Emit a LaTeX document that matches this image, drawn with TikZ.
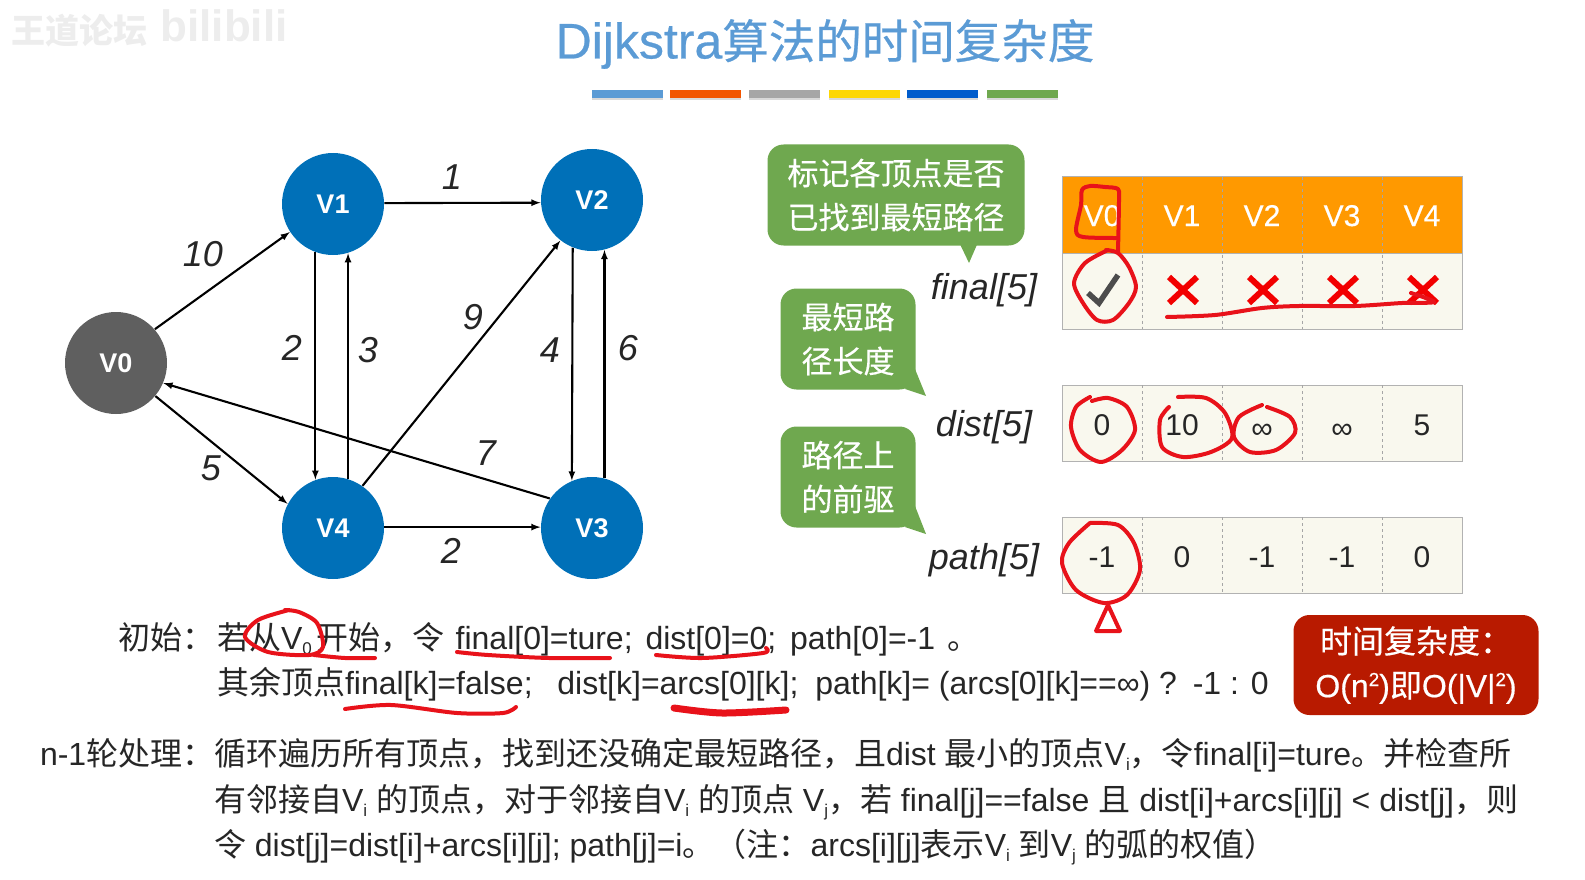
\documentclass[tikz,border=0pt]{standalone}
\usepackage{fontspec}
\usetikzlibrary{shadows}
\setmainfont{Liberation Sans}
\newfontfamily\cjk{Noto Sans CJK SC}
\newfontfamily\cjkmed[FakeBold=0.5]{Noto Sans CJK SC}
\newfontfamily\latmed[FakeBold=0.5]{Liberation Sans}
\newcommand{\cn}[1]{{\cjk #1}}
\newcommand{\cm}[1]{{\cjkmed #1}}
\newcommand{\sub}[1]{\raisebox{-5pt}{\fontsize{17}{17}\selectfont #1}}
\newcommand{\sqr}{\raisebox{11pt}{\fontsize{19}{19}\selectfont 2}}
\definecolor{titleblue}{HTML}{5B9BD5}
\definecolor{nodeblue}{HTML}{0070B8}
\definecolor{nodegray}{HTML}{5F5F5F}
\definecolor{tagreen}{HTML}{6FA84F}
\definecolor{headorange}{HTML}{FF9900}
\definecolor{cellcream}{HTML}{F9F8EE}
\definecolor{boxred}{HTML}{B81A00}
\definecolor{inkred}{HTML}{E8121A}
\begin{document}
\begin{tikzpicture}[x=1pt,y=-1pt,
every node/.style={inner sep=0pt, outer sep=0pt},
vertex/.style={circle, minimum size=102pt, fill=nodeblue, text=white, font=\fontsize{27}{27}\selectfont\bfseries, outer sep=0.5pt},
arc/.style={-latex, line width=2.1pt, black},
weight/.style={font=\fontsize{36}{36}\selectfont\itshape, text=black!85},
colorbar/.style={minimum width=71pt, minimum height=8pt, drop shadow={shadow xshift=0pt, shadow yshift=-2pt, opacity=.3}},
head/.style={minimum width=80pt, minimum height=77pt, fill=headorange, text=white, text height=22pt, text depth=0pt, font=\fontsize{30}{30}\selectfont\latmed},
cell/.style={minimum width=80pt, minimum height=76pt, fill=cellcream, text=black!85, text height=25pt, text depth=0pt, font=\fontsize{30}{30}\selectfont},
rowname/.style={font=\fontsize{36}{36}\selectfont\itshape, text=black!85},
tag/.style={fill=tagreen, rounded corners=16pt, text=white, align=center, font=\fontsize{31}{44}\selectfont\cjkmed},
textline/.style={anchor=base west, text=black!85, font=\fontsize{32}{38}\selectfont},
redpen/.style={color=inkred, line width=4pt, line cap=round, line join=round},
cross/.style={color=red!95!black, line width=6pt}]
\useasboundingbox (0,0) rectangle (1585,880);

\node[text=black!7, font=\fontsize{34}{34}\selectfont\bfseries\cjk] (mark) at (80,31) {王道论坛};
\node[text=black!7, font=\fontsize{44}{44}\selectfont\bfseries] (site) at (224,26) {bilibili};

\node[text=titleblue, font=\fontsize{46.5}{50}\selectfont] (title) at (825,44) {{\latmed\fontsize{50}{50}\selectfont Dijkstra}\cm{算法的时间复杂度}};

\node[colorbar, fill=titleblue] (bar1) at (627,94) {};
\node[colorbar, fill=orange!70!red!95!black] (bar2) at (705,94) {};
\node[colorbar, fill=black!35] (bar3) at (784,94) {};
\node[colorbar, fill=yellow!75!orange] (bar4) at (864,94) {};
\node[colorbar, fill=blue!55!cyan!80!black] (bar5) at (942,94) {};
\node[colorbar, fill=tagreen] (bar6) at (1022,94) {};

\node[vertex, fill=nodegray] (v0) at (116,363) {V0};
\node[vertex] (v1) at (333,204) {V1};
\node[vertex] (v2) at (592,200) {V2};
\node[vertex] (v3) at (592,528) {V3};
\node[vertex] (v4) at (333,528) {V4};

\draw[arc] (v0.41) -- (v1.213);
\draw[arc] (v1.1) -- (v2.183);
\draw[arc] (v1.250) -- (v4.110);
\draw[arc] (v4.73) -- (v1.287);
\draw[arc] (v2.248) -- (v3.113);
\draw[arc] (v3.76) -- (v2.284);
\draw[arc] (v4.55) -- (v2.232);
\draw[arc] (v3.145) -- (v0.337);
\draw[arc] (v0.320) -- (v4.152);
\draw[arc] (v4.1) -- (v3.179);

\node[weight] (w01) at (203,254) {10};
\node[weight] (w12) at (452,177) {1};
\node[weight] (w14) at (292,348) {2};
\node[weight] (w41) at (368,350) {3};
\node[weight] (w42) at (473,317) {9};
\node[weight] (w23) at (550,350) {4};
\node[weight] (w32) at (628,348) {6};
\node[weight] (w04) at (211,468) {5};
\node[weight] (w30) at (486,453) {7};
\node[weight] (w43) at (451,551) {2};

\node[tag, minimum width=257pt, minimum height=101pt] (tag1) at (896,195) {标记各顶点是否\\已找到最短路径};
\fill[tagreen] (958,240) -- (969,263) -- (979,240) -- cycle;
\node[tag, minimum width=135pt, minimum height=101pt] (tag2) at (848,339) {最短路\\径长度};
\fill[tagreen] (915,369) -- (926,396) -- (905,389) -- cycle;
\node[tag, minimum width=135pt, minimum height=101pt] (tag3) at (848,477) {路径上\\的前驱};
\fill[tagreen] (915,506) -- (926,534) -- (905,527) -- cycle;

\node[rowname] (rfinal) at (984,290) {final[5]};
\node[rowname] (rdist) at (984,427) {dist[5]};
\node[rowname] (rpath) at (984,560) {path[5]};

\node[head] (h0) at (1102,215) {V0};
\node[head] (h1) at (1182,215) {V1};
\node[head] (h2) at (1262,215) {V2};
\node[head] (h3) at (1342,215) {V3};
\node[head] (h4) at (1422,215) {V4};
\node[cell] (f0) at (1102,291) {};
\node[cell] (f1) at (1182,291) {};
\node[cell] (f2) at (1262,291) {};
\node[cell] (f3) at (1342,291) {};
\node[cell] (f4) at (1422,291) {};
\node[cell] (d0) at (1102,423) {0};
\node[cell] (d1) at (1182,423) {10};
\node[cell] (d2) at (1262,423) {\raisebox{-3pt}{∞}};
\node[cell] (d3) at (1342,423) {\raisebox{-3pt}{∞}};
\node[cell] (d4) at (1422,423) {5};
\node[cell] (p0) at (1102,555) {-1};
\node[cell] (p1) at (1182,555) {0};
\node[cell] (p2) at (1262,555) {-1};
\node[cell] (p3) at (1342,555) {-1};
\node[cell] (p4) at (1422,555) {0};

\draw[black!30, line width=1pt] (h0.north west) rectangle (f4.south east);
\draw[black!30, line width=1pt] (h0.south west) -- (h4.south east);
\draw[black!30, line width=1pt] (d0.north west) rectangle (d4.south east);
\draw[black!30, line width=1pt] (p0.north west) rectangle (p4.south east);
\draw[black!35, dashed, line width=.6pt] (h0.north east) -- (f0.south east);
\draw[black!35, dashed, line width=.6pt] (h1.north east) -- (f1.south east);
\draw[black!35, dashed, line width=.6pt] (h2.north east) -- (f2.south east);
\draw[black!35, dashed, line width=.6pt] (h3.north east) -- (f3.south east);
\draw[black!35, dashed, line width=.6pt] (d0.north east) -- (d0.south east);
\draw[black!35, dashed, line width=.6pt] (d1.north east) -- (d1.south east);
\draw[black!35, dashed, line width=.6pt] (d2.north east) -- (d2.south east);
\draw[black!35, dashed, line width=.6pt] (d3.north east) -- (d3.south east);
\draw[black!35, dashed, line width=.6pt] (p0.north east) -- (p0.south east);
\draw[black!35, dashed, line width=.6pt] (p1.north east) -- (p1.south east);
\draw[black!35, dashed, line width=.6pt] (p2.north east) -- (p2.south east);
\draw[black!35, dashed, line width=.6pt] (p3.north east) -- (p3.south east);

\draw[black!70, line width=5.5pt] (1088,293) -- (1099,303) -- (1118,275);
\draw[cross] (1169,277) -- (1197,303) (1197,277) -- (1169,303);
\draw[cross] (1249,277) -- (1277,303) (1277,277) -- (1249,303);
\draw[cross] (1329,277) -- (1357,303) (1357,277) -- (1329,303);
\draw[cross] (1409,277) -- (1437,303) (1437,277) -- (1409,303);

\node[fill=boxred, rounded corners=16pt, minimum width=245pt, minimum height=100pt, text=white, align=center, font=\fontsize{32}{44}\selectfont\latmed] (cost) at (1416,665) {\raisebox{-2pt}{\cm{时间复杂度：}}\\\raisebox{-2pt}{O(n\sqr)\cm{即}O(|V|\sqr)}};

\node[textline] (lab1) at (118,649) {\cn{初始：}};
\node[textline] (line1) at (217,649) {\cn{若从}V\sub{0}\hspace{5pt}\cn{开始，令}\hspace{2pt} final[0]=ture;\hspace{4pt} dist[0]=0;\hspace{5pt} path[0]=-1\hspace{12pt}\cn{。}};
\node[textline] (line2) at (217,694) {\cn{其余顶点}final[k]=false;\hspace{7pt}\ \ dist[k]=arcs[0][k];\hspace{8pt} path[k]= (arcs[0][k]==∞) ?\hspace{4pt} -1 : 0};
\node[textline] (lab2) at (40,765) {n-1\cn{轮处理：}};
\node[textline] (line3) at (214,765) {\cn{循环遍历所有顶点，找到还没确定最短路径，且}dist \cn{最小的顶点}V\sub{i}\cn{，令}final[i]=ture\cn{。并检查所}};
\node[textline] (line4) at (214,811) {\cn{有邻接自}V\sub{i} \cn{的顶点，对于邻接自}V\sub{i} \cn{的顶点} V\sub{j}\cn{，若} final[j]==false \cn{且} dist[i]+arcs[i][j] < dist[j]\cn{，则}};
\node[textline] (line5) at (214,856) {\cn{令} dist[j]=dist[i]+arcs[i][j]; path[j]=i\cn{。（注：}arcs[i][j]\cn{表示}V\sub{i} \cn{到}V\sub{j} \cn{的弧的权值）}};

\draw[redpen] plot[smooth] coordinates {(1118,252) (1119,200) (1118,189) (1105,187) (1090,186) (1082,190) (1081,205) (1076,230) (1083,237) (1118,238)};
\draw[redpen] plot[smooth] coordinates {(1108,250) (1085,263) (1074,283) (1083,303) (1097,320) (1113,320) (1129,303) (1136,287) (1129,267) (1118,253) (1106,250)};
\draw[redpen] plot[smooth] coordinates {(1167,317) (1215,315) (1262,308) (1299,306) (1355,306) (1402,303) (1434,302) (1411,293)};
\draw[redpen] plot[smooth] coordinates {(1090,397) (1076,407) (1071,427) (1080,450) (1101,462) (1122,450) (1135,430) (1127,407) (1108,398) (1092,401)};
\draw[redpen] plot[smooth] coordinates {(1169,407) (1160,420) (1162,447) (1183,457) (1211,452) (1232,438) (1225,413) (1206,398) (1178,397)};
\draw[redpen] plot[smooth] coordinates {(1262,405) (1239,417) (1234,437) (1250,452) (1276,450) (1295,433) (1290,417) (1267,407)};
\draw[redpen] plot[smooth] coordinates {(1090,523) (1069,543) (1062,563) (1076,590) (1104,603) (1127,595) (1140,570) (1134,543) (1118,525) (1090,523)};
\draw[redpen] (1108,605) -- (1096,631) -- (1120,631) -- cycle;
\draw[redpen] plot[smooth] coordinates {(289,610) (258,620) (245,637) (268,652) (309,655) (323,647) (317,623) (299,612) (285,610)};
\draw[redpen] plot[smooth] coordinates {(314,655) (345,658) (375,658)};
\draw[redpen] plot[smooth] coordinates {(457,652) (488,655) (549,658) (610,658)};
\draw[redpen] plot[smooth] coordinates {(656,655) (702,658) (763,653) (766,648)};
\draw[redpen] plot[smooth] coordinates {(345,709) (391,705) (457,713) (503,713) (516,707)};
\draw[redpen, line width=7pt] plot[smooth] coordinates {(674,708) (722,713) (786,710)};
\end{tikzpicture}
\end{document}
